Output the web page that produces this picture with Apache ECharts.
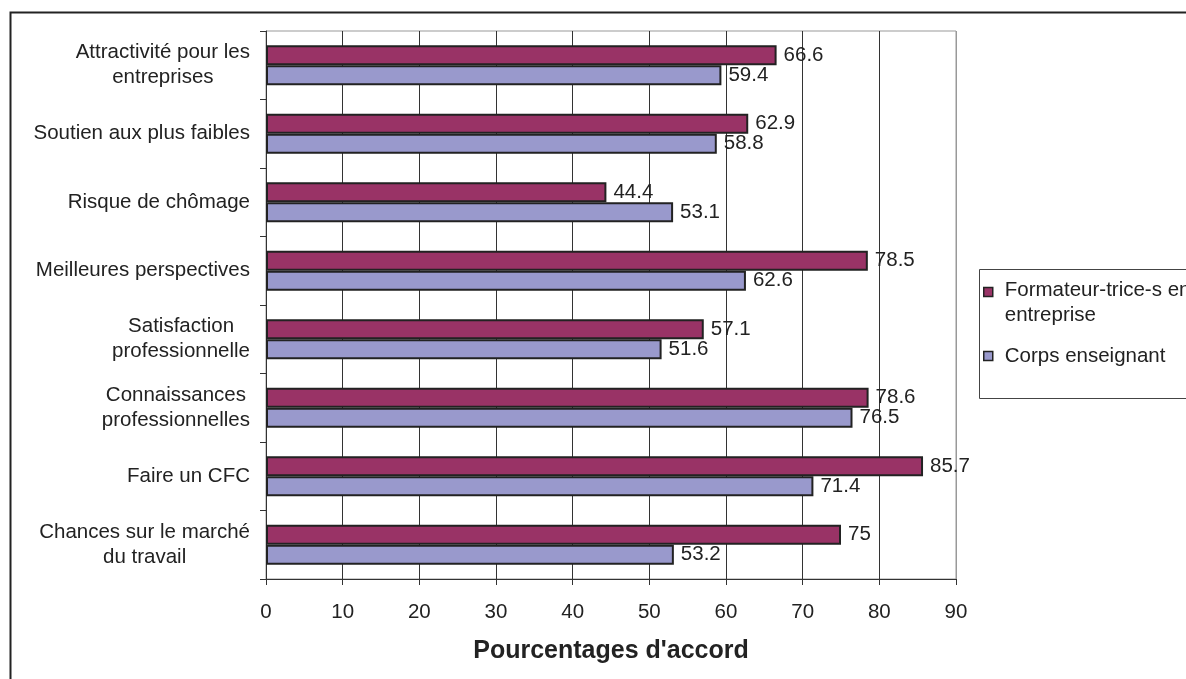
<!DOCTYPE html>
<html><head><meta charset="utf-8">
<script src="https://cdn.jsdelivr.net/npm/echarts@6/dist/echarts.min.js"></script>
<style>html,body{margin:0;padding:0;background:#fff}#c{width:1186px;height:679px}</style>
</head><body><div id="c"></div>
<script>
const categories = [
  "Attractivité pour les\nentreprises",
  "Soutien aux plus faibles",
  "Risque de chômage",
  "Meilleures perspectives",
  "Satisfaction\nprofessionnelle",
  "Connaissances\nprofessionnelles",
  "Faire un CFC",
  "Chances sur le marché\ndu travail"
];
const seriesNames = ["Formateur-trice-s en entreprise", "Corps enseignant"];
const formateurs = [66.6, 62.9, 44.4, 78.5, 57.1, 78.6, 85.7, 75];
const enseignants = [59.4, 58.8, 53.1, 62.6, 51.6, 76.5, 71.4, 53.2];
const xMin = 0, xMax = 90, xStep = 10;
const xTitle = "Pourcentages d'accord";

const FONT = "'Liberation Sans', Arial, Helvetica, sans-serif";
const FS = 20.5;
const TXT = '#222';
const chart = echarts.init(document.getElementById('c'), null, {renderer: 'canvas'});

const nLines = (xMax - xMin) / xStep + 1;
const splitColors = [];
for (let i = 0; i < nLines; i++) splitColors.push(i === nLines - 1 ? '#999' : '#333');

const barLabel = {show: true, position: 'right', distance: 7, fontSize: FS, fontFamily: FONT, color: TXT};
const barBorder = {borderColor: '#222', borderWidth: 2};

chart.setOption({
  animation: false,
  backgroundColor: '#fff',
  textStyle: {fontFamily: FONT},
  grid: {left: 266, right: 230, top: 31, bottom: 100, containLabel: false, outerBoundsMode: 'none',
         show: true, borderColor: '#999', borderWidth: 1, backgroundColor: 'transparent'},
  graphic: [
    {type: 'rect', shape: {x: 10.5, y: 12.5, width: 1400, height: 900}, silent: true,
     style: {fill: 'none', stroke: '#222', lineWidth: 2}, z: -10},
    {type: 'rect', shape: {x: 979.5, y: 269.5, width: 400, height: 129}, silent: true,
     style: {fill: 'none', stroke: '#444', lineWidth: 1}, z: -10}
  ],
  legend: {
    orient: 'vertical', left: 983, top: 256.5, padding: 0, itemGap: 16,
    itemWidth: 9, itemHeight: 9, icon: 'rect',
    textStyle: {fontSize: FS, lineHeight: 25, color: TXT, fontFamily: FONT, padding: [0, 0, 0, 7],
      rich: {
        s: {fontSize: 1, lineHeight: 21, height: 21},
        a: {fontSize: FS, lineHeight: 25, color: TXT, fontFamily: FONT}
      }
    },
    formatter: function (n) {
      return n === seriesNames[0] ? '{s| }\n{a|Formateur-trice-s en}\n{a|entreprise}' : '{a|' + n + '}';
    },
    data: [
      {name: seriesNames[0], itemStyle: {borderColor: '#222', borderWidth: 1.5}},
      {name: seriesNames[1], itemStyle: {borderColor: '#222', borderWidth: 1.5}}
    ]
  },
  xAxis: {
    type: 'value', min: xMin, max: xMax, interval: xStep,
    name: xTitle, nameLocation: 'middle', nameGap: 60,
    nameTextStyle: {fontSize: 25, fontWeight: 'bold', color: TXT, fontFamily: FONT},
    axisLine: {show: true, lineStyle: {color: '#333', width: 1}},
    axisTick: {show: true, length: 6, lineStyle: {color: '#333'}},
    axisLabel: {fontSize: FS, color: TXT, margin: 23, fontFamily: FONT},
    splitLine: {show: true, lineStyle: {color: splitColors, width: 1}}
  },
  yAxis: {
    type: 'category', data: categories, inverse: true,
    axisLine: {show: true, lineStyle: {color: '#333', width: 1}},
    axisTick: {show: true, length: 6, lineStyle: {color: '#333'}},
    axisLabel: {
      margin: 16, fontSize: FS, color: TXT, fontFamily: FONT, lineHeight: 25, align: 'right',
      formatter: function (v) { return v.split('\n').map(function (l) { return '{c|' + l + '}'; }).join('\n'); },
      rich: {c: {align: 'center', fontSize: FS, lineHeight: 25, color: TXT, fontFamily: FONT}}
    },
    splitLine: {show: false}
  },
  series: [
    {name: seriesNames[0], type: 'bar', data: formateurs, barWidth: 20, barGap: '0%',
     itemStyle: Object.assign({color: '#993366'}, barBorder), label: barLabel},
    {name: seriesNames[1], type: 'bar', data: enseignants, barWidth: 20, barGap: '0%',
     itemStyle: Object.assign({color: '#9999CC'}, barBorder), label: barLabel}
  ]
});
</script></body></html>
